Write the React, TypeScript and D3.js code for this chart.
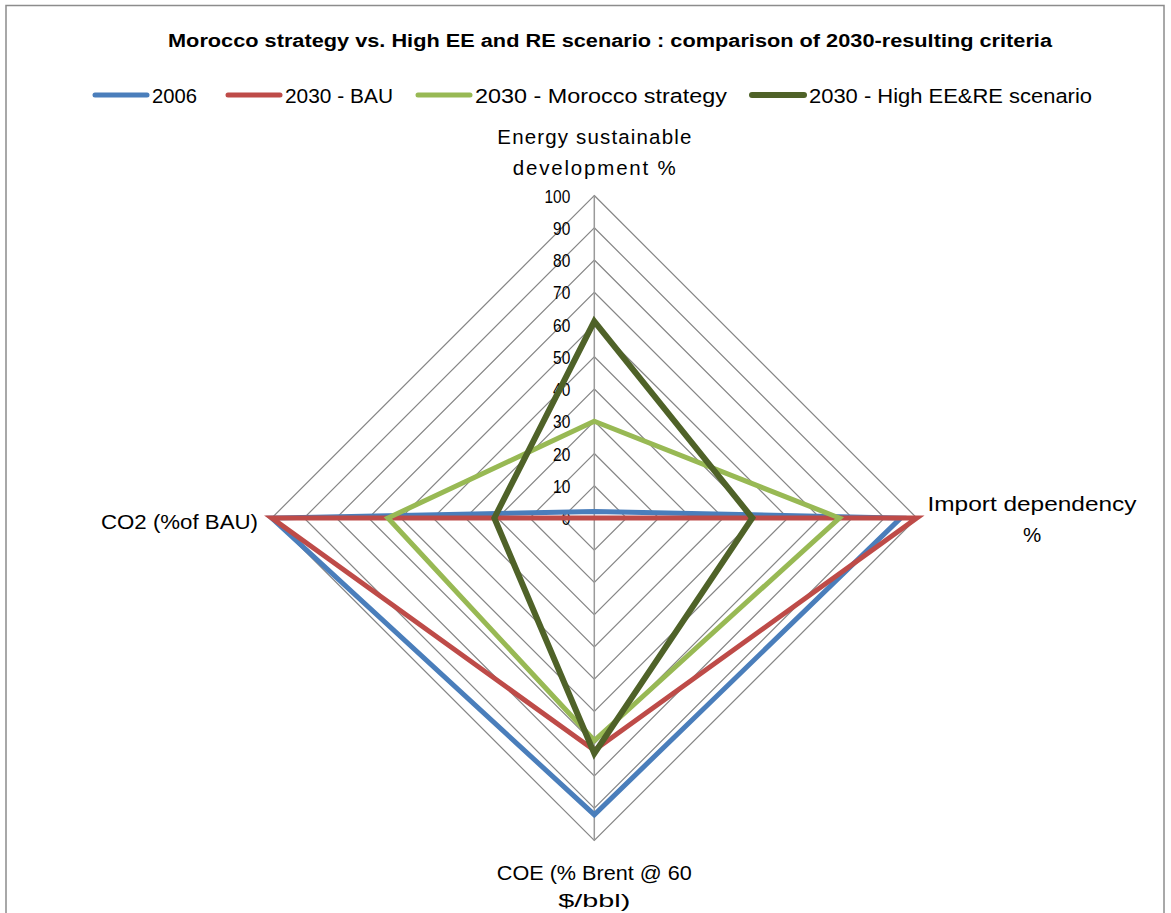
import React from "react";
import * as d3 from "d3";

const categories = [
  ["Energy sustainable", "development %"],
  ["Import dependency", "%"],
  ["COE (% Brent @ 60", "$/bbl)"],
  ["CO2 (%of BAU)"],
];
const seriesNames = ["2006", "2030 - BAU", "2030 - Morocco strategy", "2030 - High EE&RE scenario"];
const values2006 = [2, 95, 92, 100];
const valuesBAU = [0, 100, 72, 100];
const valuesMorocco = [30, 76, 69, 64];
const valuesHigh = [61, 49, 73, 31];
const tickValues = [0, 10, 20, 30, 40, 50, 60, 70, 80, 90, 100];

const colors = ["#4A7EBB", "#BE4B48", "#98B954", "#4F6228"];
const widths = [5, 5, 5, 6];
const FONT = "'Liberation Sans', Arial, sans-serif";

export default function App() {
  const W = 1171, H = 913;
  const cx = 594.3, cy = 518;
  const r = d3.scaleLinear().domain([0, 100]).range([0, 322.5]);
  const angle = (i: number) => -Math.PI / 2 + (i * 2 * Math.PI) / categories.length;
  const pt = (i: number, v: number): [number, number] => [
    cx + r(v) * Math.cos(angle(i)),
    cy + r(v) * Math.sin(angle(i)),
  ];
  const closed = d3.line().curve(d3.curveLinearClosed);
  const allSeries = [values2006, valuesBAU, valuesMorocco, valuesHigh];

  const legendX = [95, 228, 418, 752];
  const legendW = [45, 108, 252, 283];
  const fs = 20.5;

  return (
    <svg width={W} height={H} style={{ position: "absolute", left: 0, top: 0, background: "#fff" }}>
      <rect x={6} y={5.5} width={1158} height={920} fill="#fff" stroke="#8c8c8c" strokeWidth={1.5} />
      <text x={610} y={47} textAnchor="middle" fontFamily={FONT} fontWeight="bold" fontSize={18}
        textLength={884} lengthAdjust="spacingAndGlyphs">
        Morocco strategy vs. High EE and RE scenario : comparison of 2030-resulting criteria
      </text>
      {seriesNames.map((n, i) => (
        <g key={n}>
          <line x1={legendX[i]} x2={legendX[i] + 52} y1={95} y2={95} stroke={colors[i]} strokeWidth={widths[i]} strokeLinecap="round" />
          <text x={legendX[i] + 57} y={103} fontFamily={FONT} fontSize={fs}
            textLength={legendW[i]} lengthAdjust="spacingAndGlyphs">{n}</text>
        </g>
      ))}
      {/* grid rings */}
      {tickValues.filter((t) => t > 0).map((t) => (
        <path key={t} d={closed(categories.map((_, i) => pt(i, t))) || ""} fill="none" stroke="#868686" strokeWidth={1.2} />
      ))}
      {/* spokes */}
      {categories.map((_, i) => {
        const [x, y] = pt(i, 100);
        return <line key={i} x1={cx} y1={cy} x2={x} y2={y} stroke="#9a9a9a" strokeWidth={1.5} />;
      })}
      {/* tick labels */}
      {tickValues.map((t) => (
        <text key={t} x={cx - 24} y={cy - r(t) + 7} textAnchor="end" fontFamily={FONT} fontSize={18}
          textLength={String(t).length * 8.6} lengthAdjust="spacingAndGlyphs">{t}</text>
      ))}
      {/* series */}
      {allSeries.map((s, k) => (
        <path key={k} d={closed(s.map((v, i) => pt(i, v))) || ""} fill="none" stroke={colors[k]} strokeWidth={widths[k]} strokeLinejoin="miter" />
      ))}
      {/* axis labels */}
      <text textAnchor="middle" fontFamily={FONT} fontSize={fs} lengthAdjust="spacingAndGlyphs">
        <tspan x={cx} y={144} textLength={194}>{categories[0][0]}</tspan>
        <tspan x={cx} y={175} textLength={163}>{categories[0][1]}</tspan>
      </text>
      <text textAnchor="middle" fontFamily={FONT} fontSize={fs}>
        <tspan x={1032} y={511} textLength={209} lengthAdjust="spacingAndGlyphs">{categories[1][0]}</tspan>
        <tspan x={1032} y={542}>{categories[1][1]}</tspan>
      </text>
      <text textAnchor="middle" fontFamily={FONT} fontSize={fs}>
        <tspan x={cx} y={880} textLength={195} lengthAdjust="spacingAndGlyphs">{categories[2][0]}</tspan>
        <tspan x={cx} y={907} fontSize={19} textLength={72} lengthAdjust="spacingAndGlyphs">{categories[2][1]}</tspan>
      </text>
      <text x={258} y={529} textAnchor="end" fontFamily={FONT} fontSize={fs}
        textLength={157} lengthAdjust="spacingAndGlyphs">{categories[3][0]}</text>
    </svg>
  );
}
